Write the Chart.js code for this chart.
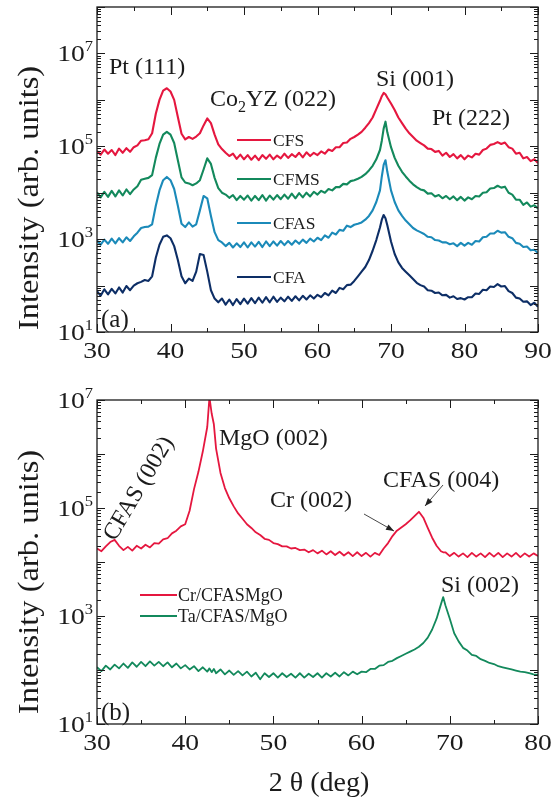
<!DOCTYPE html>
<html><head><meta charset="utf-8">
<script src="https://cdn.jsdelivr.net/npm/chart.js@4.4.1/dist/chart.umd.min.js"></script>
<style>
html,body{margin:0;padding:0;background:#fff;}
#wrap{position:relative;width:559px;height:802px;overflow:hidden;}
.box{position:absolute;left:0;width:559px;}
</style></head><body>
<div id="wrap">
  <div class="box" style="top:0;height:360px"><canvas id="ca" width="559" height="360"></canvas></div>
  <div class="box" style="top:360px;height:442px"><canvas id="cb" width="559" height="442"></canvas></div>
</div>
<script>
// ---------- Panel (a): 2θ grid (deg) ----------
const anglesA = [30,30.5,31,31.5,32,32.5,33,33.5,34,34.5,35,35.5,36,36.5,37,37.5,38,38.5,39,39.5,40,40.5,41,41.5,42,42.5,43,43.5,44,44.5,45,45.5,46,46.5,47,47.5,48,48.5,49,49.5,50,50.5,51,51.5,52,52.5,53,53.5,54,54.5,55,55.5,56,56.5,57,57.5,58,58.5,59,59.5,60,60.5,61,61.5,62,62.5,63,63.5,64,64.5,65,65.5,66,66.5,67,67.5,68,68.5,68.75,69,69.25,69.5,70,70.5,71,71.5,72,72.5,73,73.5,74,74.5,75,75.5,76,76.5,77,77.5,78,78.5,79,79.5,80,80.5,81,81.5,82,82.5,83,83.5,84,84.5,85,85.5,86,86.5,87,87.5,88,88.5,89,89.5,90];

// log10(intensity)
const logCFS = [4.90,4.82,4.93,4.84,4.92,4.81,4.95,4.86,4.96,4.88,
4.98,5.02,5.12,5.13,5.15,5.28,5.70,6.00,6.20,6.25,
6.18,6.00,5.63,5.27,5.15,5.20,5.16,5.21,5.28,5.45,
5.60,5.50,5.25,5.04,4.94,4.86,4.79,4.84,4.73,4.82,
4.72,4.81,4.71,4.80,4.70,4.81,4.73,4.82,4.72,4.80,
4.74,4.84,4.75,4.83,4.77,4.86,4.76,4.87,4.79,4.86,
4.81,4.89,4.84,4.93,4.90,4.98,4.98,5.07,5.08,5.16,
5.20,5.25,5.31,5.40,5.50,5.62,5.80,5.98,
6.08,6.15,6.12,
6.05,5.92,5.78,5.62,5.50,5.38,5.28,5.20,5.12,5.07,
5.02,4.95,4.94,4.88,4.90,4.80,4.86,4.77,4.83,4.74,
4.81,4.72,4.80,4.76,4.84,4.82,4.92,4.95,5.03,5.05,
5.09,5.05,5.08,4.98,4.95,4.84,4.86,4.74,4.77,4.68,
4.72,4.64];

const logCFMS = [4.01,3.90,4.02,3.91,4.04,3.92,4.05,3.94,4.07,3.97,
4.07,4.14,4.28,4.30,4.32,4.38,4.75,5.05,5.25,5.31,
5.25,5.07,4.70,4.33,4.22,4.20,4.16,4.20,4.27,4.50,
4.74,4.62,4.32,4.10,4.00,3.96,3.89,3.95,3.84,3.93,
3.85,3.94,3.83,3.93,3.84,3.95,3.83,3.94,3.85,3.95,
3.86,3.96,3.87,3.98,3.88,3.99,3.90,4.00,3.92,4.02,
3.96,4.04,4.00,4.08,4.05,4.12,4.12,4.19,4.18,4.25,
4.27,4.30,4.34,4.40,4.48,4.58,4.72,4.92,
5.12,5.38,5.53,
5.30,4.98,4.75,4.58,4.45,4.35,4.26,4.18,4.12,4.07,
4.05,3.98,3.99,3.92,3.95,3.88,3.93,3.86,3.92,3.84,
3.91,3.83,3.90,3.86,3.93,3.92,4.00,4.01,4.09,4.10,
4.15,4.11,4.13,4.00,3.96,3.85,3.85,3.74,3.79,3.70,
3.73,3.66];

const logCFAS = [2.97,2.88,2.99,2.90,3.01,2.91,3.02,2.93,3.04,2.96,
3.06,3.14,3.24,3.26,3.27,3.32,3.72,4.05,4.27,4.34,
4.27,4.08,3.72,3.33,3.26,3.36,3.27,3.32,3.62,3.93,
3.88,3.50,3.15,2.98,2.93,2.85,2.92,2.82,2.91,2.83,
2.93,2.82,2.93,2.84,2.94,2.83,2.95,2.85,2.95,2.86,
2.96,2.87,2.96,2.88,2.97,2.90,2.99,2.92,3.01,2.95,
3.03,2.98,3.08,3.03,3.14,3.10,3.20,3.18,3.29,3.26,
3.31,3.33,3.36,3.42,3.50,3.62,3.80,4.05,
4.35,4.60,4.70,
4.45,4.05,3.80,3.62,3.50,3.40,3.32,3.24,3.19,3.15,
3.11,3.05,3.04,2.98,2.97,2.93,2.93,2.89,2.91,2.85,
2.92,2.86,2.92,2.88,2.96,2.95,3.04,3.05,3.12,3.12,
3.18,3.14,3.15,3.05,3.02,2.92,2.90,2.83,2.84,2.76,
2.77,2.70];

const logCFA = [1.88,1.78,1.92,1.81,1.93,1.83,1.96,1.85,1.99,1.90,
2.00,2.05,2.08,2.12,2.10,2.20,2.60,2.88,3.05,3.08,
3.02,2.85,2.55,2.20,2.05,2.15,2.10,2.30,2.68,2.66,
2.30,1.90,1.72,1.64,1.72,1.59,1.70,1.58,1.71,1.60,
1.72,1.61,1.73,1.62,1.74,1.63,1.75,1.64,1.76,1.65,
1.74,1.66,1.76,1.67,1.77,1.68,1.78,1.70,1.79,1.72,
1.80,1.75,1.84,1.79,1.89,1.84,1.95,1.92,2.01,2.02,
2.10,2.20,2.30,2.40,2.55,2.75,2.98,3.25,
3.42,3.52,3.45,
3.30,2.95,2.68,2.50,2.38,2.30,2.22,2.14,2.06,2.01,
1.98,1.90,1.89,1.84,1.85,1.79,1.80,1.74,1.77,1.71,
1.73,1.70,1.75,1.75,1.83,1.82,1.91,1.90,1.98,1.97,
2.03,1.98,1.99,1.88,1.84,1.74,1.72,1.65,1.66,1.58,
1.63,1.54];

const seriesA = ['CFS','CFMS','CFAS','CFA'];

// ---------- Panel (b) ----------
const anglesB = [30,30.5,31,31.5,32,32.5,33,33.5,34,34.5,35,35.5,36,36.5,37,37.5,38,38.5,39,39.5,40,40.5,41,41.5,42,42.5,42.75,43,43.25,43.5,44,44.5,45,45.5,46,46.5,47,47.5,48,48.5,49,49.5,50,50.5,51,51.5,52,52.5,53,53.5,54,54.5,55,55.5,56,56.5,57,57.5,58,58.5,59,59.5,60,60.5,61,61.5,62,62.5,63,63.5,64,64.5,65,65.5,66,66.5,67,67.5,68,68.5,69,69.25,69.5,70,70.5,71,71.5,72,72.5,73,73.5,74,74.5,75,75.5,76,76.5,77,77.5,78,78.5,79,79.5,80];

const logCr = [4.25,4.20,4.29,4.37,4.41,4.30,4.22,4.28,4.21,4.30,
4.25,4.32,4.27,4.35,4.34,4.42,4.44,4.53,4.58,4.66,
4.70,4.95,5.35,5.67,6.05,6.50,
7.05,6.75,6.55,
6.10,5.65,5.37,5.18,5.03,4.90,4.80,4.70,4.63,4.55,
4.50,4.43,4.41,4.35,4.33,4.29,4.29,4.25,4.26,4.22,
4.23,4.18,4.22,4.16,4.21,4.14,4.20,4.13,4.19,4.12,
4.18,4.11,4.18,4.11,4.17,4.10,4.17,4.13,4.25,4.35,
4.48,4.58,4.64,4.70,4.77,4.85,4.93,4.82,4.63,4.45,
4.30,4.20,4.18,
4.18,4.11,4.17,4.10,4.16,4.09,4.17,4.10,4.16,4.09,
4.17,4.10,4.17,4.09,4.16,4.10,4.17,4.09,4.16,4.10,
4.16,4.11];

const logTa = [2.05,1.98,2.08,2.01,2.10,2.03,2.12,2.04,2.14,2.06,
2.15,2.07,2.16,2.08,2.15,2.07,2.14,2.05,2.12,2.03,
2.09,2.01,2.07,1.98,2.05,1.97,
2.03,1.96,2.02,
1.94,2.01,1.92,1.99,1.91,1.98,1.90,1.97,1.88,1.95,
1.83,1.94,1.87,1.94,1.86,1.94,1.87,1.93,1.86,1.94,
1.86,1.93,1.87,1.94,1.86,1.94,1.88,1.95,1.88,1.96,
1.90,1.97,1.92,1.97,1.96,2.02,2.02,2.08,2.09,2.15,
2.17,2.22,2.26,2.30,2.34,2.38,2.43,2.50,2.60,2.75,
2.95,3.22,3.35,
3.20,2.95,2.68,2.53,2.41,2.36,2.28,2.26,2.20,2.17,
2.13,2.11,2.07,2.05,2.03,2.01,1.99,1.97,1.96,1.94,
1.92,1.91];

const seriesB = ['Cr/CFASMgO','Ta/CFAS/MgO'];

const xTicksA = [30,40,50,60,70,80,90];
const xTicksB = [30,40,50,60,70,80];
const yLabelExp = [1,3,5,7];

// ---------- styling ----------
const RED = '#e5173f', GREEN = '#13895c', BLUE = '#1b8ab9', NAVY = '#0d2e66';
const FONT = '"Liberation Serif", "Times New Roman", serif';
const INK = '#1b1b1b';

function pts(angles, logs) { return angles.map((a, i) => ({ x: a, y: Math.pow(10, logs[i]) })); }
function ds(label, angles, logs, color, w) {
  return { label, data: pts(angles, logs), borderColor: color, backgroundColor: color,
    borderWidth: w, pointRadius: 0, tension: 0, fill: false, borderJoinStyle: 'round' };
}

function txt(ctx, s, x, y, size, o = {}) {
  ctx.save();
  ctx.font = size + 'px ' + FONT;
  ctx.fillStyle = o.color || INK;
  ctx.textBaseline = o.baseline || 'alphabetic';
  ctx.translate(x, y);
  if (o.rot) ctx.rotate(o.rot);
  const sx = o.sx || 1;
  ctx.scale(sx, 1);
  const w = ctx.measureText(s).width;
  let dx = 0;
  if (o.align === 'center') dx = -w / 2; else if (o.align === 'right') dx = -w;
  ctx.fillText(s, dx, 0);
  ctx.restore();
  return w * sx;
}
function measure(ctx, s, size, sx = 1) { ctx.save(); ctx.font = size + 'px ' + FONT; const w = ctx.measureText(s).width * sx; ctx.restore(); return w; }

function drawFrame(chart, xMin, xMax, eMin, eMax, xTicks) {
  const ctx = chart.ctx, a = chart.chartArea, xs = chart.scales.x, ys = chart.scales.y;
  ctx.save();
  ctx.strokeStyle = INK;
  ctx.lineWidth = 1.3;
  ctx.strokeRect(a.left, a.top, a.right - a.left, a.bottom - a.top);
  ctx.lineWidth = 1;
  ctx.beginPath();
  for (let v = xMin; v <= xMax; v += 5) {
    const px = Math.round(xs.getPixelForValue(v)) + 0.5;
    const len = v % 10 === 0 ? 8 : 4;
    ctx.moveTo(px, a.bottom); ctx.lineTo(px, a.bottom - len);
    ctx.moveTo(px, a.top); ctx.lineTo(px, a.top + len);
  }
  for (let e = eMin; e <= eMax; e++) {
    for (let k = 1; k <= 9; k++) {
      if (e === eMax && k > 1) break;
      const py = Math.round(ys.getPixelForValue(k * Math.pow(10, e))) + 0.5;
      const len = k === 1 ? 8 : 4;
      ctx.moveTo(a.left, py); ctx.lineTo(a.left + len, py);
      ctx.moveTo(a.right, py); ctx.lineTo(a.right - len, py);
    }
  }
  ctx.stroke();
  ctx.restore();
  // tick labels
  xTicks.forEach(v => txt(ctx, String(v), xs.getPixelForValue(v), a.bottom + 26, 23, { align: 'center', sx: 1.2 }));
  yLabelExp.forEach(e => {
    if (e > eMax) return;
    const py = ys.getPixelForValue(Math.pow(10, e));
    const sw = measure(ctx, String(e), 15, 1.1);
    const tw = measure(ctx, '10', 23, 1.2);
    txt(ctx, '10', 93 - sw - tw, py + 8, 23, { sx: 1.2 });
    txt(ctx, String(e), 93 - sw, py - 2, 15, { sx: 1.1 });
  });
}

function arrow(ctx, x1, y1, x2, y2) {
  ctx.save();
  ctx.strokeStyle = '#333'; ctx.fillStyle = '#222'; ctx.lineWidth = 0.9;
  ctx.beginPath(); ctx.moveTo(x1, y1); ctx.lineTo(x2, y2); ctx.stroke();
  const ang = Math.atan2(y2 - y1, x2 - x1), L = 8, W = 3;
  ctx.beginPath();
  ctx.moveTo(x2, y2);
  ctx.lineTo(x2 - L * Math.cos(ang) + W * Math.sin(ang), y2 - L * Math.sin(ang) - W * Math.cos(ang));
  ctx.lineTo(x2 - L * Math.cos(ang) - W * Math.sin(ang), y2 - L * Math.sin(ang) + W * Math.cos(ang));
  ctx.closePath(); ctx.fill();
  ctx.restore();
}

function legendLine(ctx, x1, x2, y, color) {
  ctx.save(); ctx.strokeStyle = color; ctx.lineWidth = 1.8;
  ctx.beginPath(); ctx.moveTo(x1, y); ctx.lineTo(x2, y); ctx.stroke(); ctx.restore();
}

const decoA = {
  id: 'decoA',
  afterDatasetsDraw(chart) {
    const ctx = chart.ctx;
    drawFrame(chart, 30, 90, 1, 8, xTicksA);
    txt(ctx, 'Pt (111)', 109, 74, 24);
    let w = txt(ctx, 'Co', 210, 106, 24);
    const w2 = txt(ctx, '2', 210 + w, 112, 16);
    txt(ctx, 'YZ (022)', 210 + w + w2, 106, 24);
    txt(ctx, 'Si (001)', 376, 86, 24);
    txt(ctx, 'Pt (222)', 432, 125, 24);
    txt(ctx, '(a)', 101, 327, 25);
    const colors = [RED, GREEN, BLUE, NAVY];
    const ly = [140, 179, 223, 277];
    seriesA.forEach((n, i) => {
      legendLine(ctx, 237, 271, ly[i], colors[i]);
      txt(ctx, n, 273, ly[i] + 6, 17.5);
    });
    txt(ctx, 'Intensity (arb. units)', 30, 198, 29, { rot: -Math.PI / 2, align: 'center', baseline: 'middle', sx: 1.12 });
  }
};

const decoB = {
  id: 'decoB',
  afterDatasetsDraw(chart) {
    const ctx = chart.ctx;
    const T = 360; // canvas offset in page
    drawFrame(chart, 30, 80, 1, 7, xTicksB);
    txt(ctx, 'MgO (002)', 219, 445 - T, 24);
    txt(ctx, 'Cr (002)', 270, 507 - T, 24);
    txt(ctx, 'CFAS (004)', 383, 487 - T, 24);
    txt(ctx, 'Si (002)', 441, 592 - T, 24);
    txt(ctx, '(b)', 101, 720 - T, 25);
    txt(ctx, 'CFAS (002)', 115, 542 - T, 24, { rot: -59.5 * Math.PI / 180 });
    arrow(ctx, 364, 514 - T, 394, 531 - T);
    arrow(ctx, 443, 485 - T, 425, 506 - T);
    legendLine(ctx, 140, 177, 595 - T, RED);
    txt(ctx, seriesB[0], 178, 601 - T, 18);
    legendLine(ctx, 140, 177, 616 - T, GREEN);
    txt(ctx, seriesB[1], 178, 622 - T, 18);
    txt(ctx, 'Intensity (arb. units)', 30, 582 - T, 29, { rot: -Math.PI / 2, align: 'center', baseline: 'middle', sx: 1.12 });
    txt(ctx, '2 θ (deg)', 319, 791 - T, 28, { align: 'center' });
  }
};

function scalesFor(xMin, xMax, yMax, xH) {
  return {
    x: { type: 'linear', min: xMin, max: xMax, ticks: { display: false }, grid: { display: false }, border: { display: false },
         afterFit(s) { s.height = xH; } },
    y: { type: 'logarithmic', min: 10, max: yMax, ticks: { display: false }, grid: { display: false }, border: { display: false },
         afterFit(s) { s.width = 97; } }
  };
}

new Chart(document.getElementById('ca'), {
  type: 'line',
  data: { datasets: [
    ds(seriesA[0], anglesA, logCFS, RED, 2.1),
    ds(seriesA[1], anglesA, logCFMS, GREEN, 2.1),
    ds(seriesA[2], anglesA, logCFAS, BLUE, 2.1),
    ds(seriesA[3], anglesA, logCFA, NAVY, 2.1)
  ] },
  options: {
    responsive: false, animation: false,
    layout: { padding: { top: 7, right: 21, left: 0, bottom: 0 } },
    plugins: { legend: { display: false }, tooltip: { enabled: false } },
    scales: scalesFor(30, 90, 1e8, 28)
  },
  plugins: [decoA]
});

new Chart(document.getElementById('cb'), {
  type: 'line',
  data: { datasets: [
    ds(seriesB[0], anglesB, logCr, RED, 1.8),
    ds(seriesB[1], anglesB, logTa, GREEN, 1.8)
  ] },
  options: {
    responsive: false, animation: false,
    layout: { padding: { top: 40, right: 21, left: 0, bottom: 0 } },
    plugins: { legend: { display: false }, tooltip: { enabled: false } },
    scales: scalesFor(30, 80, 1e7, 78)
  },
  plugins: [decoB]
});
</script>
</body></html>
